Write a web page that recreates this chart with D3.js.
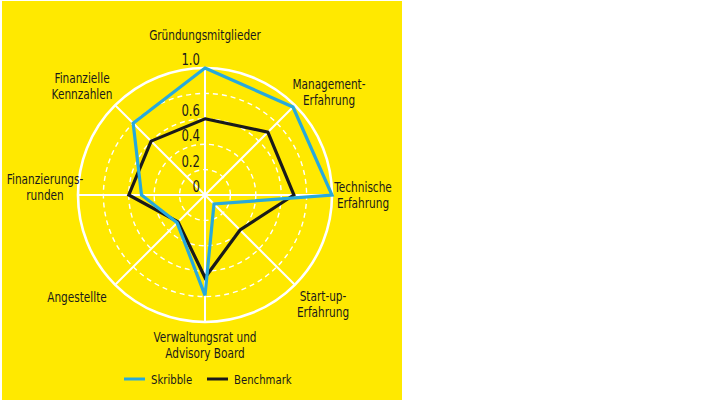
<!DOCTYPE html>
<html>
<head>
<meta charset="utf-8">
<script src="https://cdn.jsdelivr.net/npm/d3@7"></script>
<style>
  body { margin: 0; background: #fff; }
  svg text { font-family: "DejaVu Sans", sans-serif; fill: #1a1a1a; }
</style>
</head>
<body>
<svg id="chart" width="720" height="405"></svg>
<script>
// axis labels, clockwise from the top (line breaks as in the original)
const categories = [
  ["Gründungsmitglieder"],
  ["Management-", "Erfahrung"],
  ["Technische", "Erfahrung"],
  ["Start-up-", "Erfahrung"],
  ["Verwaltungsrat und", "Advisory Board"],
  ["Angestellte"],
  ["Finanzierungs-", "runden"],
  ["Finanzielle", "Kennzahlen"]
];
const skribble = [1.0, 0.98, 1.0, 0.1, 0.79, 0.31, 0.5, 0.8];
const benchmark = [0.6, 0.7, 0.7, 0.39, 0.65, 0.3, 0.6, 0.6];
const ringValues = [0.2, 0.4, 0.6, 0.8];
const tickLabels = ["0", "0.2", "0.4", "0.6", "1.0"];
const tickValues = [0, 0.2, 0.4, 0.6, 1.0];
const seriesNames = ["Skribble", "Benchmark"];

const svg = d3.select("#chart");
const cx = 205, cy = 195, R = 127;
const yellow = "#ffe900", blue = "#27a9dc", black = "#1a1a1a";
// the original uses a condensed face, squeeze the text horizontally
const squeeze = 0.78;

svg.append("rect")
  .attr("x", 2).attr("y", 1).attr("width", 400).attr("height", 399)
  .attr("fill", yellow);

const r = d3.scaleLinear().domain([0, 1]).range([0, R]);
const angle = d3.scaleLinear().domain([0, categories.length]).range([0, 2 * Math.PI]);

const g = svg.append("g").attr("transform", `translate(${cx},${cy})`);

// dashed inner rings
g.selectAll("circle.ring")
  .data(ringValues)
  .enter().append("circle")
  .attr("class", "ring")
  .attr("r", d => r(d))
  .attr("fill", "none")
  .attr("stroke", "#fff")
  .attr("stroke-width", 1.4)
  .attr("stroke-dasharray", "5,4");

// outer ring
g.append("circle")
  .attr("r", r(1))
  .attr("fill", "none")
  .attr("stroke", "#fff")
  .attr("stroke-width", 2.6);

// spokes
g.selectAll("line.spoke")
  .data(categories)
  .enter().append("line")
  .attr("class", "spoke")
  .attr("x1", 0).attr("y1", 0)
  .attr("x2", (d, i) => r(1) * Math.sin(angle(i)))
  .attr("y2", (d, i) => -r(1) * Math.cos(angle(i)))
  .attr("stroke", "#fff")
  .attr("stroke-width", 2);

// tick labels on the top axis
g.selectAll("text.tick")
  .data(tickValues)
  .enter().append("text")
  .attr("class", "tick")
  .attr("transform", d => `translate(-5,${-r(d) - 3}) scale(${squeeze},1)`)
  .attr("text-anchor", "end")
  .attr("font-size", 15)
  .text((d, i) => tickLabels[i]);

const line = d3.lineRadial()
  .angle((d, i) => angle(i))
  .radius(d => r(d))
  .curve(d3.curveLinearClosed);

g.append("path")
  .datum(benchmark)
  .attr("d", line)
  .attr("fill", "none")
  .attr("stroke", black)
  .attr("stroke-width", 3.2)
  .attr("stroke-linejoin", "miter");

g.append("path")
  .datum(skribble)
  .attr("d", line)
  .attr("fill", "none")
  .attr("stroke", blue)
  .attr("stroke-width", 3.2)
  .attr("stroke-linejoin", "miter");

// category labels: anchor points around the circle, one text per line
const labelPos = [
  [205, 40], [329, 89], [363, 192], [323, 301],
  [205, 342], [77, 302], [45, 184], [82, 83]
];
categories.forEach((lines, i) => {
  lines.forEach((s, j) => {
    svg.append("text")
      .attr("transform", `translate(${labelPos[i][0]},${labelPos[i][1] + j * 15.5}) scale(${squeeze},1)`)
      .attr("text-anchor", "middle")
      .attr("font-size", 13.5)
      .text(s);
  });
});

// legend
const legend = svg.append("g");
const legendX = [124, 207];
[blue, black].forEach((c, i) => {
  legend.append("line")
    .attr("x1", legendX[i]).attr("x2", legendX[i] + 21)
    .attr("y1", 379).attr("y2", 379)
    .attr("stroke", c).attr("stroke-width", 3);
  legend.append("text")
    .attr("transform", `translate(${legendX[i] + 27},384) scale(${squeeze},1)`)
    .attr("font-size", 13)
    .text(seriesNames[i]);
});
</script>
</body>
</html>
